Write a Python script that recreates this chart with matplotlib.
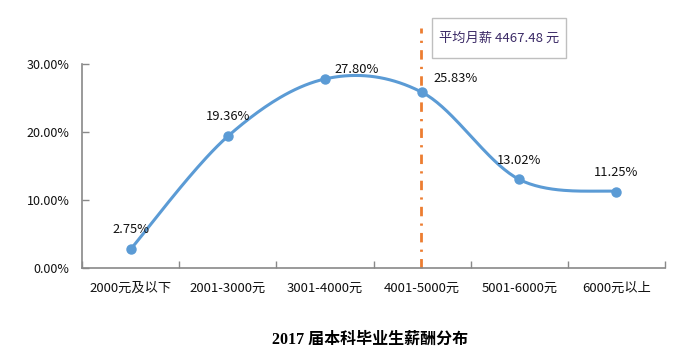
import numpy as np
import matplotlib.pyplot as plt
from matplotlib.patches import Rectangle
from matplotlib.ticker import FuncFormatter

plt.rcParams['font.family'] = ['Noto Sans CJK SC', 'DejaVu Sans']

categories = ['2000元及以下', '2001-3000元', '3001-4000元', '4001-5000元', '5001-6000元', '6000元以上']
shares = [2.75, 19.36, 27.80, 25.83, 13.02, 11.25]
avg_pos = 2.99
avg_label = '平均月薪 4467.48 元'
title = '2017 届本科毕业生薪酬分布'

# label offsets in points (dx, dy)
label_off = [(0, 14), (0, 14), (23, 7), (24, 10), (0, 14), (0, 14)]


def smooth(xs, ys, n=40):
    # Catmull-Rom style bezier, like spreadsheet "smoothed line"
    xs = np.asarray(xs, float)
    ys = np.asarray(ys, float)
    px = np.concatenate([[xs[0]], xs, [xs[-1]]])
    py = np.concatenate([[ys[0]], ys, [ys[-1]]])
    outx, outy = [], []
    t = np.linspace(0, 1, n)
    for i in range(1, len(px) - 2):
        p0 = np.array([px[i], py[i]])
        p3 = np.array([px[i + 1], py[i + 1]])
        c1 = p0 + (np.array([px[i + 1], py[i + 1]]) - np.array([px[i - 1], py[i - 1]])) / 6
        c2 = p3 - (np.array([px[i + 2], py[i + 2]]) - np.array([px[i], py[i]])) / 6
        b = ((1 - t) ** 3)[:, None] * p0 + (3 * (1 - t) ** 2 * t)[:, None] * c1 \
            + (3 * (1 - t) * t ** 2)[:, None] * c2 + (t ** 3)[:, None] * p3
        outx.extend(b[:, 0])
        outy.extend(b[:, 1])
    return np.array(outx), np.array(outy)


fig = plt.figure(figsize=(6.86, 3.56), dpi=100)
ax = fig.add_axes([0.1195, 0.2472, 0.85, 0.573])

x = np.arange(len(categories))
sx, sy = smooth(x, shares)
ax.plot(sx, sy, color='#5B9BD5', lw=2.2, solid_capstyle='round', zorder=3)
ax.plot(x, shares, 'o', color='#5B9BD5', ms=6.5, zorder=4)

for xi, v, (dx, dy) in zip(x, shares, label_off):
    ax.annotate(f'{v:.2f}%', (xi, v), xytext=(dx, dy), textcoords='offset points',
                ha='center', va='center', fontsize=9.3, color='#111111')

ax.plot([avg_pos, avg_pos], [0, 35.3], color='#ED7D31', lw=2.0,
        linestyle=(0, (3.4, 2.6, 0.8, 2.6)), clip_on=False, zorder=2)

# callout box
ax.add_patch(Rectangle((3.10, 30.9), 1.38, 5.9, fc='white', ec='#bfbfbf',
                       lw=1, clip_on=False, zorder=5))
ax.text(3.79, 33.8, avg_label, ha='center', va='center', fontsize=9.5,
        color='#3b2a66', zorder=6)

ax.set_xlim(-0.5, len(categories) - 0.5)
ax.set_ylim(0, 30)
ax.set_yticks([0, 10, 20, 30])
ax.yaxis.set_major_formatter(FuncFormatter(lambda v, p: f'{v:.2f}%'))
ax.set_xticks(x)
ax.set_xticklabels(categories)
ax.set_xticks(np.arange(-0.5, len(categories)), minor=True)

for s in ['top', 'right']:
    ax.spines[s].set_visible(False)
for s in ['left', 'bottom']:
    ax.spines[s].set_color('#898989')
    ax.spines[s].set_linewidth(1.2)

ax.tick_params(axis='x', which='major', length=0, pad=10, labelsize=9.5, colors='#111111')
ax.tick_params(axis='x', which='minor', direction='in', length=5, color='#898989', width=1)
ax.tick_params(axis='y', direction='in', length=5, color='#898989', width=1,
               pad=9, labelsize=9, labelcolor='#111111')

fig.text(0.54, 0.045, title, ha='center', va='center', fontsize=11.5,
         fontweight='bold', family=['Liberation Serif', 'Noto Sans CJK SC'])

fig.savefig('out.png', dpi=100)
